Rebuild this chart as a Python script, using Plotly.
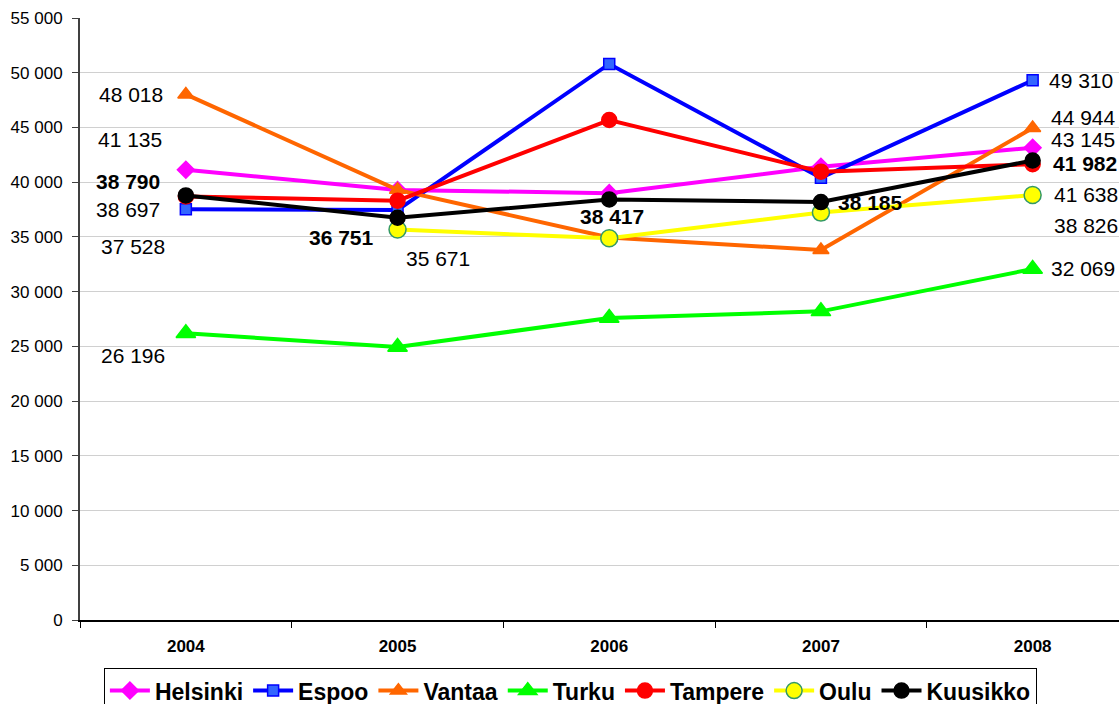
import plotly.graph_objects as go

years = ["2004", "2005", "2006", "2007", "2008"]
helsinki = [41135, 39290, 39000, 41400, 43145]
espoo = [37528, 37450, 50800, 40400, 49310]
vantaa = [48018, 39300, 34950, 33800, 44944]
turku = [26196, 24940, 27590, 28200, 32069]
tampere = [38697, 38310, 45680, 40960, 41638]
oulu = [None, 35671, 34870, 37220, 38826]
kuusikko = [38790, 36751, 38417, 38185, 41982]

series_names = ["Helsinki", "Espoo", "Vantaa", "Turku", "Tampere", "Oulu", "Kuusikko"]
series_values = [helsinki, espoo, vantaa, turku, tampere, oulu, kuusikko]

styles = {
    "Helsinki": dict(line="#FF00FF", symbol="diamond", size=13, fill="#FF00FF", edge="#FF00FF"),
    "Espoo": dict(line="#0000FF", symbol="square", size=11, fill="#3366FF", edge="#0000FF"),
    "Vantaa": dict(line="#FF6600", symbol="triangle-up", size=14, fill="#FF6600", edge="#FF6600"),
    "Turku": dict(line="#00FF00", symbol="triangle-up", size=17, fill="#00FF00", edge="#00FF00"),
    "Tampere": dict(line="#FF0000", symbol="circle", size=15, fill="#FF0000", edge="#FF0000"),
    "Oulu": dict(line="#FFFF00", symbol="circle", size=17, fill="#FFFF00", edge="#339966"),
    "Kuusikko": dict(line="#000000", symbol="circle", size=15, fill="#000000", edge="#000000"),
}

# data labels: (series, year index, bold, xshift, yshift)
labels = [
    ("Vantaa", 0, False, -55, 0),
    ("Helsinki", 0, False, -56, 30),
    ("Kuusikko", 0, True, -58, 14),
    ("Tampere", 0, False, -58, -13),
    ("Espoo", 0, False, -53, -37),
    ("Turku", 0, False, -53, -22),
    ("Kuusikko", 1, True, -56, -20),
    ("Oulu", 1, False, 40, -29),
    ("Kuusikko", 2, True, 3, -17),
    ("Kuusikko", 3, True, 50, 0),
    ("Espoo", 4, False, 48, 0),
    ("Vantaa", 4, False, 51, 11),
    ("Helsinki", 4, False, 50, 8),
    ("Kuusikko", 4, True, 52, -3),
    ("Tampere", 4, False, 53, -30),
    ("Oulu", 4, False, 53, -30),
    ("Turku", 4, False, 50, 0),
]

fig = go.Figure()
for name, vals in zip(series_names, series_values):
    s = styles[name]
    fig.add_trace(go.Scatter(
        x=years, y=vals, name=name, mode="lines+markers",
        line=dict(color=s["line"], width=4),
        marker=dict(symbol=s["symbol"], size=s["size"], color=s["fill"],
                    line=dict(color=s["edge"], width=1.5)),
        connectgaps=False,
    ))

lookup = dict(zip(series_names, series_values))
annots = []
for name, idx, bold, dx, dy in labels:
    v = lookup[name][idx]
    txt = f"{v:,}".replace(",", " ")
    if bold:
        txt = f"<b>{txt}</b>"
    # category axis: numeric x is the category index
    annots.append(dict(x=idx, y=v, xref="x", yref="y", text=txt, showarrow=False,
                       xshift=dx, yshift=dy, xanchor="center", yanchor="middle",
                       font=dict(family="Liberation Sans, Arial, sans-serif", size=21, color="#000000")))

fig.update_layout(
    annotations=annots,
    width=1119, height=704,
    margin=dict(l=80, r=0, t=18, b=84, autoexpand=False),
    paper_bgcolor="white", plot_bgcolor="white",
    separators=", ",
    font=dict(family="Liberation Sans, Arial, sans-serif", color="#000000"),
    showlegend=True,
    legend=dict(orientation="h", x=0.023, y=-0.08, xanchor="left", yanchor="top",
                bordercolor="#000000", borderwidth=1,
                font=dict(size=23, weight="bold", color="#000000"),
                itemwidth=40, tracegroupgap=0),
)
fig.update_xaxes(
    type="category", range=[-0.5, 4.408],
    showline=True, linecolor="#000000", linewidth=2,
    ticks="outside", tickson="boundaries", ticklen=6, tickcolor="#000000",
    tickfont=dict(size=17, weight="bold"), ticklabelstandoff=10,
    showgrid=False, zeroline=False,
)
fig.update_yaxes(
    range=[0, 55000], dtick=5000, tickformat=",d",
    showline=True, linecolor="#404040", linewidth=2,
    ticks="outside", ticklen=6, tickcolor="#404040",
    tickfont=dict(size=17), ticklabelstandoff=6,
    showgrid=True, gridcolor="#D0D0D0", gridwidth=1,
    zeroline=False,
)

fig.write_html(
    "out.html",
    config={"displayModeBar": False},
    post_script="document.body.style.margin='0';document.body.style.overflow='hidden';",
)
